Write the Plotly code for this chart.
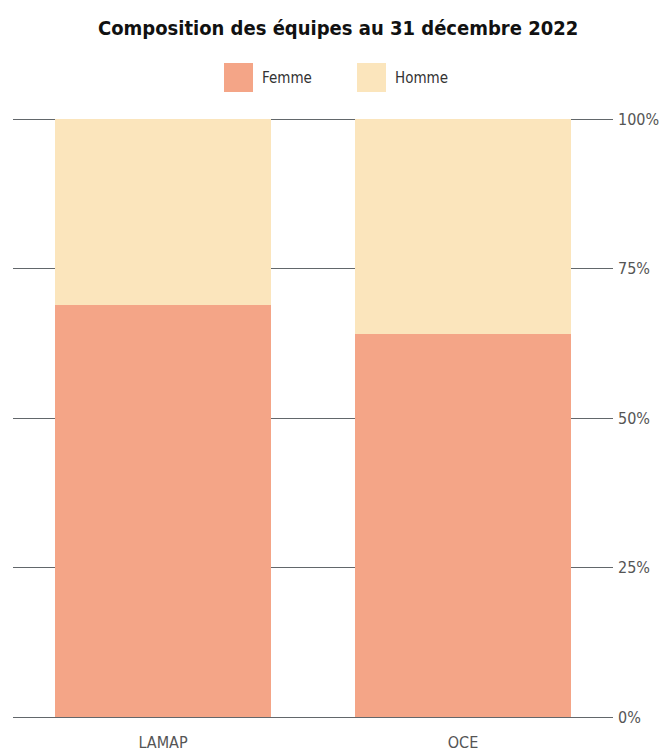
import plotly.graph_objects as go

categories = ["LAMAP", "OCE"]
femme = [0.69, 0.64]
homme = [0.31, 0.36]
series_names = ["Femme", "Homme"]
colors = ["#F4A587", "#FBE5BC"]
tick_vals = [0, 0.25, 0.5, 0.75, 1.0]
tick_text = ["0%", "25%", "50%", "75%", "100%"]

FONT = "DejaVu Sans Condensed, Roboto, sans-serif"
W, H = 663, 755
L, R, T, B = 13, 50, 118, 38
PW, PH = W - L - R, H - T - B

fig = go.Figure()
for name, vals, col in zip(series_names, [femme, homme], colors):
    fig.add_trace(go.Bar(x=categories, y=vals, name=name, marker=dict(color=col, line=dict(width=0)),
                         showlegend=False))

# custom legend (big square swatches)
sw = 29
legend_items = [(224, "Femme"), (357, "Homme")]
def px(x):
    return (x - L) / PW
def py(y):
    return (H - B - y) / PH
for (x0, label), col in zip(legend_items, colors):
    fig.add_shape(type="rect", xref="paper", yref="paper",
                  x0=px(x0), x1=px(x0 + sw), y0=py(92), y1=py(63),
                  fillcolor=col, line=dict(width=0), layer="above")
    fig.add_annotation(xref="paper", yref="paper", x=px(x0 + sw + 7), y=py(77.5),
                       text=label, showarrow=False, xanchor="left", yanchor="middle",
                       font=dict(family=FONT, size=15, color="#333333"))

fig.update_layout(
    width=W, height=H,
    barmode="stack", bargap=0.28,
    plot_bgcolor="white", paper_bgcolor="white",
    margin=dict(l=L, r=R, t=T, b=B),
    title=dict(text="<b>Composition des équipes au 31 décembre 2022</b>", x=0.51, xanchor="center",
               y=1 - 28 / H, yanchor="middle",
               font=dict(family=FONT, size=20, color="#111111")),
    font=dict(family=FONT),
)
fig.update_xaxes(showgrid=False, showline=True, linecolor="#62676b", linewidth=1, layer="above traces",
                 tickfont=dict(family=FONT, size=16, color="#555555"), ticks="", ticklabelstandoff=11,
                 automargin=False)
fig.update_yaxes(side="right", range=[0, 1.002], tickvals=tick_vals, ticktext=tick_text,
                 showgrid=True, gridcolor="#62676b", gridwidth=1, zeroline=False,
                 tickfont=dict(family=FONT, size=16, color="#555555"), ticks="", ticklabelstandoff=4,
                 automargin=False)

fig.write_html("out.html")
